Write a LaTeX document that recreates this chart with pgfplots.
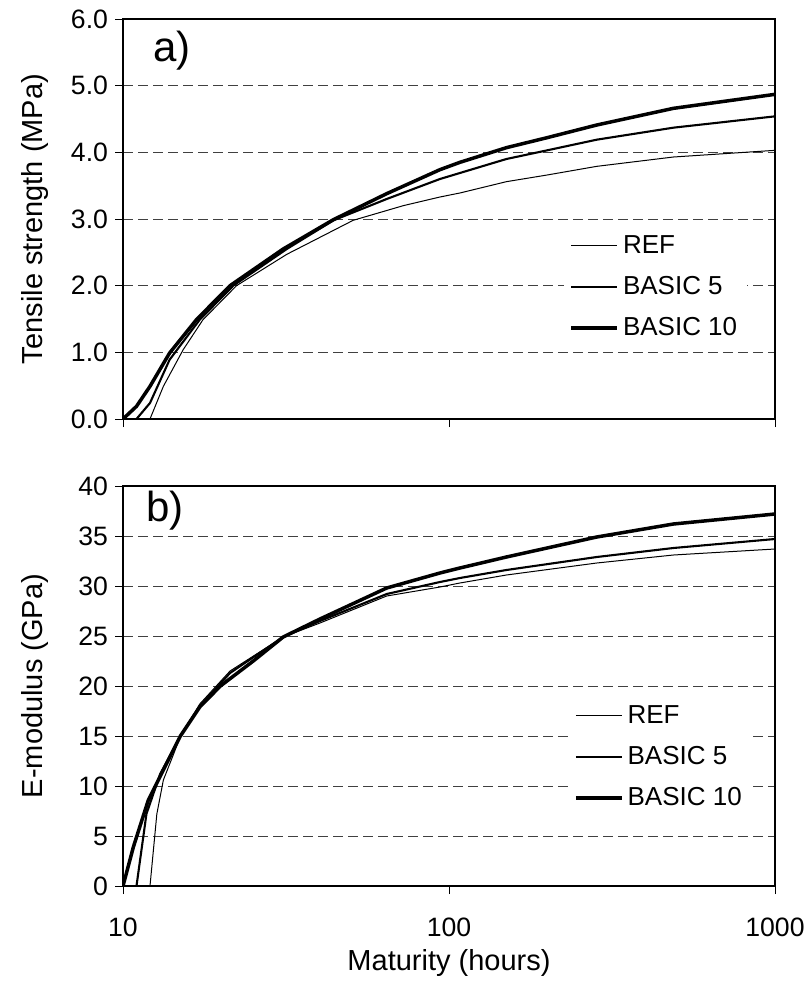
\documentclass[border=0pt]{standalone}
\usepackage{fontspec}
\setmainfont{Liberation Sans}
\usepackage{pgfplots}
\pgfplotsset{compat=1.18}
\begin{document}
\begin{tikzpicture}
\begin{axis}[
  width=326pt, height=200pt, scale only axis,
  xmode=log, xmin=10, xmax=1000,
  xtick={10,100,1000}, xminorticks=false,
  xticklabel=\empty,
  tick align=outside, xtick pos=bottom, ytick pos=left,
  major tick length=4pt,
  tick style={black, line width=0.5pt},
  axis line style={line width=0.6pt},
  ymajorgrids, major grid style={black!75, line width=0.5pt, dash pattern=on 5pt off 2.5pt},
  tick label style={font=\fontsize{13.3}{15}\selectfont},
  ymin=0, ymax=6, ytick={0,1,...,6},
  yticklabel={\pgfmathprintnumber[fixed,fixed zerofill,precision=1,assume math mode=true]{\tick}\hspace{2.5pt}},
  ylabel={Tensile strength (MPa)},
  ylabel style={at={(axis description cs:-0.135,0.5)}, rotate=0, anchor=center, font=\fontsize{14.5}{17}\selectfont},
  legend style={draw=none, fill=white, font=\fontsize{13}{15}\selectfont, row sep=6pt, at={(0.675,0.33)}, anchor=west},
  legend cell align=left,
  legend image code/.code={\draw[#1] (0pt,0pt) -- (23pt,0pt);},
]
\addplot[black, line width=0.5pt, line join=round] coordinates {(12.1,0) (13.3,0.49) (15.3,1.04) (17.6,1.49) (22.3,2.0) (31.8,2.47) (50.8,2.98) (72.4,3.20) (93.8,3.33) (108,3.39) (150,3.56) (200,3.66) (284,3.79) (488,3.93) (1000,4.03)};
\addlegendentry{REF}
\addplot[black, line width=1.05pt, line join=round] coordinates {(11,0) (12.1,0.24) (13.9,0.89) (17.2,1.49) (21.8,2.0) (31.8,2.55) (44.2,2.98) (64.4,3.30) (93.8,3.60) (108,3.69) (150,3.90) (200,4.03) (284,4.19) (488,4.37) (1000,4.54)};
\addlegendentry{BASIC 5}
\addplot[black, line width=1.75pt, line join=round] coordinates {(10,0) (11,0.19) (12.1,0.49) (13.9,0.99) (16.8,1.49) (21.3,2.0) (31,2.55) (44.2,2.99) (64.4,3.38) (93.8,3.74) (108,3.85) (150,4.07) (200,4.22) (284,4.41) (488,4.66) (1000,4.87)};
\addlegendentry{BASIC 10}
\node[font=\fontsize{21}{24}\selectfont] at (rel axis cs:0.075,0.92) {a)};
\end{axis}
\begin{axis}[at={(0pt,-33.5pt)}, anchor=north west,
  width=326pt, height=200pt, scale only axis,
  xmode=log, xmin=10, xmax=1000,
  xtick={10,100,1000}, xminorticks=false,
  xticklabels={10,100,1000},
  xticklabel style={yshift=-8.5pt},
  tick align=outside, xtick pos=bottom, ytick pos=left,
  major tick length=4pt,
  tick style={black, line width=0.5pt},
  axis line style={line width=0.6pt},
  ymajorgrids, major grid style={black!75, line width=0.5pt, dash pattern=on 5pt off 2.5pt},
  tick label style={font=\fontsize{13.3}{15}\selectfont},
  ymin=0, ymax=40, ytick={0,5,...,40},
  yticklabel={\pgfmathprintnumber[assume math mode=true]{\tick}\hspace{2.5pt}},
  ylabel={E-modulus (GPa)},
  ylabel style={at={(axis description cs:-0.135,0.5)}, rotate=0, anchor=center, font=\fontsize{14.5}{17}\selectfont},
  xlabel={Maturity (hours)},
  xlabel style={at={(axis description cs:0.5,0)}, yshift=-38.5pt, anchor=center, font=\fontsize{14.5}{17}\selectfont},
  legend style={draw=none, fill=white, font=\fontsize{13}{15}\selectfont, row sep=6pt, at={(0.682,0.3225)}, anchor=west},
  legend cell align=left,
  legend image code/.code={\draw[#1] (0pt,0pt) -- (23pt,0pt);},
]
\addplot[black, line width=0.5pt, line join=round] coordinates {(12.1,0) (12.7,7.2) (13.3,10.6) (14.3,13.2) (15,15) (17.2,18.2) (21.3,21.5) (31,24.9) (40.2,26.3) (64.4,29.0) (93.8,29.9) (108,30.3) (150,31.1) (284,32.3) (488,33.1) (1000,33.7)};
\addlegendentry{REF}
\addplot[black, line width=1.05pt, line join=round] coordinates {(11,0) (11.8,7.2) (13,11.2) (15,15) (17.2,18) (21.3,21.3) (31,24.9) (40.2,26.5) (64.4,29.2) (93.8,30.4) (108,30.8) (150,31.6) (284,32.9) (488,33.8) (1000,34.7)};
\addlegendentry{BASIC 5}
\addplot[black, line width=1.75pt, line join=round] coordinates {(10,0) (10.76,3.9) (11.96,8.6) (13.3,11.6) (15,15) (17.2,17.9) (19.9,20) (25.1,22.5) (31,24.9) (40.2,26.7) (64.4,29.8) (93.8,31.3) (108,31.8) (150,32.9) (284,34.9) (488,36.2) (1000,37.2)};
\addlegendentry{BASIC 10}
\node[font=\fontsize{21}{24}\selectfont] at (rel axis cs:0.064,0.9375) {b)};
\end{axis}
\pgfresetboundingbox
\path[use as bounding box] (-61.5pt,-281pt) rectangle (341pt,209.5pt);
\end{tikzpicture}
\end{document}
